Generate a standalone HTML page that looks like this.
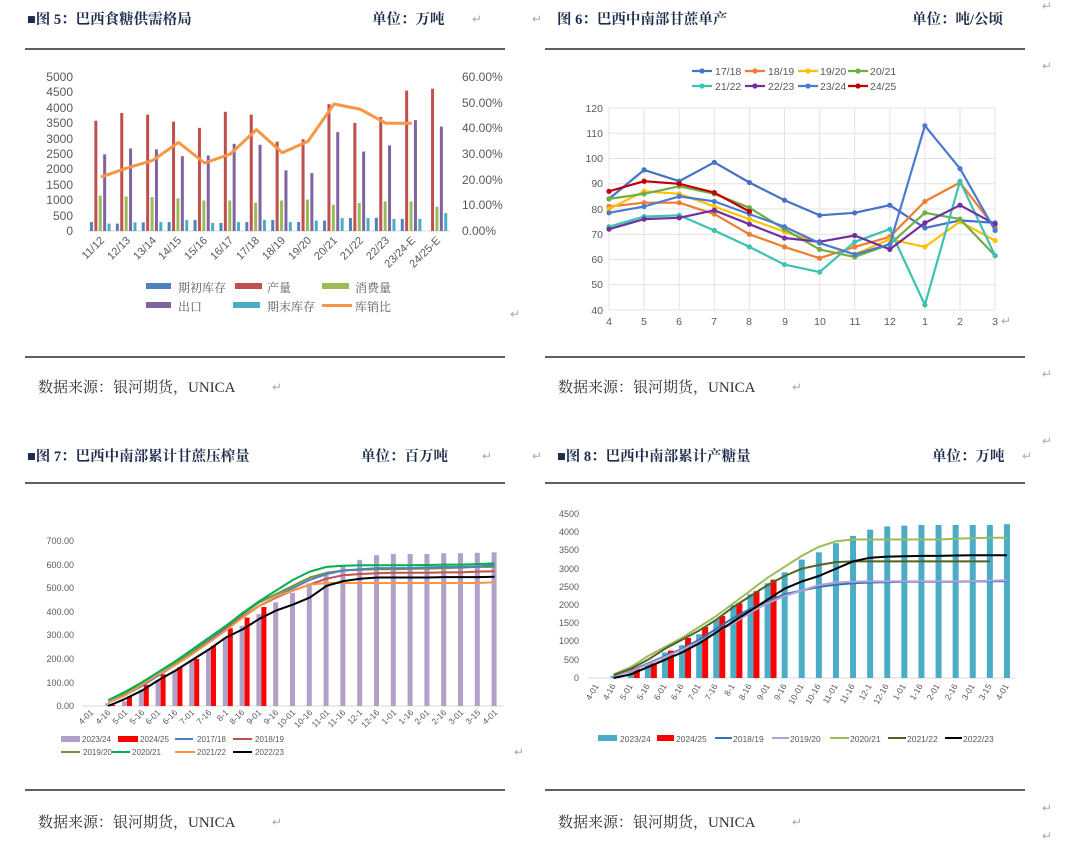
<!DOCTYPE html>
<html><head><meta charset="utf-8">
<style>
html,body{margin:0;padding:0;background:#fff;}
svg{display:block;font-family:"Liberation Serif","Noto Serif CJK SC",serif;}
.t{font-weight:bold;font-size:14.5px;fill:#1f2d4d;}
.s{font-size:15px;fill:#333;}
.ax{font-family:"Liberation Sans","Noto Sans CJK SC",sans-serif;fill:#595959;}
.rm{fill:#aaa;font-size:12px;font-family:"Liberation Sans",sans-serif;}
</style></head><body>
<svg id="c" width="1090" height="859" viewBox="0 0 1090 859" xmlns="http://www.w3.org/2000/svg">
<text class="t" x="27" y="24">■图 5：巴西食糖供需格局</text>
<text class="t" x="372" y="24">单位：万吨</text><text class="rm" x="472" y="23">↵</text><text class="rm" x="532" y="23">↵</text>
<text class="t" x="557" y="24">图 6：巴西中南部甘蔗单产</text>
<text class="t" x="912" y="24">单位：吨/公顷</text><text class="rm" x="1042" y="10">↵</text>
<line x1="25" y1="49" x2="505" y2="49" stroke="#000" stroke-width="1.2"/>
<line x1="545" y1="49" x2="1025" y2="49" stroke="#000" stroke-width="1.2"/>
<line x1="25" y1="357" x2="505" y2="357" stroke="#000" stroke-width="1.2"/>
<line x1="545" y1="357" x2="1025" y2="357" stroke="#000" stroke-width="1.2"/>
<text class="s" x="38" y="392">数据来源：银河期货，UNICA</text><text class="rm" x="272" y="391">↵</text>
<text class="s" x="558" y="392">数据来源：银河期货，UNICA</text><text class="rm" x="792" y="391">↵</text>
<text class="rm" x="1042" y="70">↵</text><text class="rm" x="1042" y="378">↵</text><text class="rm" x="1042" y="445">↵</text><text class="rm" x="510" y="318">↵</text>
<text class="t" x="27" y="461">■图 7：巴西中南部累计甘蔗压榨量</text>
<text class="t" x="361" y="461">单位：百万吨</text><text class="rm" x="482" y="460">↵</text><text class="rm" x="532" y="460">↵</text>
<text class="t" x="557" y="461">■图 8：巴西中南部累计产糖量</text>
<text class="t" x="932" y="461">单位：万吨</text><text class="rm" x="1022" y="460">↵</text>
<line x1="25" y1="483" x2="505" y2="483" stroke="#000" stroke-width="1.2"/>
<line x1="545" y1="483" x2="1025" y2="483" stroke="#000" stroke-width="1.2"/>
<line x1="25" y1="790" x2="505" y2="790" stroke="#000" stroke-width="1.2"/>
<line x1="545" y1="790" x2="1025" y2="790" stroke="#000" stroke-width="1.2"/>
<text class="s" x="38" y="827">数据来源：银河期货，UNICA</text><text class="rm" x="272" y="826">↵</text>
<text class="s" x="558" y="827">数据来源：银河期货，UNICA</text><text class="rm" x="792" y="826">↵</text>
<text class="rm" x="1042" y="812">↵</text><text class="rm" x="1042" y="840">↵</text><text class="rm" x="514" y="756">↵</text>

<g class="ax" font-size="12" text-anchor="end">
<text x="73" y="81">5000</text><text x="73" y="96">4500</text><text x="73" y="112">4000</text><text x="73" y="127">3500</text><text x="73" y="143">3000</text><text x="73" y="158">2500</text><text x="73" y="173">2000</text><text x="73" y="189">1500</text><text x="73" y="204">1000</text><text x="73" y="220">500</text><text x="73" y="235">0</text>
</g>
<g class="ax" font-size="12">
<text x="462" y="81">60.00%</text><text x="462" y="107">50.00%</text><text x="462" y="132">40.00%</text><text x="462" y="158">30.00%</text><text x="462" y="184">20.00%</text><text x="462" y="209">10.00%</text><text x="462" y="235">0.00%</text>
</g>
<g class="ax" font-size="11" text-anchor="end">
<text x="105" y="241" transform="rotate(-45 105 241)">11/12</text>
<text x="131" y="241" transform="rotate(-45 131 241)">12/13</text>
<text x="157" y="241" transform="rotate(-45 157 241)">13/14</text>
<text x="182" y="241" transform="rotate(-45 182 241)">14/15</text>
<text x="208" y="241" transform="rotate(-45 208 241)">15/16</text>
<text x="234" y="241" transform="rotate(-45 234 241)">16/17</text>
<text x="260" y="241" transform="rotate(-45 260 241)">17/18</text>
<text x="286" y="241" transform="rotate(-45 286 241)">18/19</text>
<text x="312" y="241" transform="rotate(-45 312 241)">19/20</text>
<text x="338" y="241" transform="rotate(-45 338 241)">20/21</text>
<text x="364" y="241" transform="rotate(-45 364 241)">21/22</text>
<text x="390" y="241" transform="rotate(-45 390 241)">22/23</text>
<text x="416" y="241" transform="rotate(-45 416 241)">23/24-E</text>
<text x="441" y="241" transform="rotate(-45 441 241)">24/25-E</text>
</g>
<g font-size="12" fill="#595959">
<rect x="146" y="283" width="25" height="6" fill="#4f81bd"/><text x="178" y="292">期初库存</text>
<rect x="235" y="283" width="27" height="6" fill="#c0504d"/><text x="267" y="292">产量</text>
<rect x="322" y="283" width="27" height="6" fill="#9bbb59"/><text x="355" y="292">消费量</text>
<rect x="146" y="302" width="25" height="6" fill="#8064a2"/><text x="178" y="311">出口</text>
<rect x="233" y="302" width="27" height="6" fill="#4bacc6"/><text x="267" y="311">期末库存</text>
<rect x="322" y="304" width="30" height="3" fill="#f79646"/><text x="355" y="311">库销比</text>
</g>

<g class="ax" font-size="10.5" text-anchor="end">
<text x="603" y="112">120</text><text x="603" y="137">110</text><text x="603" y="162">100</text><text x="603" y="187">90</text><text x="603" y="213">80</text><text x="603" y="238">70</text><text x="603" y="263">60</text><text x="603" y="288">50</text><text x="603" y="314">40</text>
</g>
<g class="ax" font-size="10.5" text-anchor="middle">
<text x="609" y="325">4</text><text x="644" y="325">5</text><text x="679" y="325">6</text><text x="714" y="325">7</text><text x="749" y="325">8</text><text x="785" y="325">9</text><text x="820" y="325">10</text><text x="855" y="325">11</text><text x="890" y="325">12</text><text x="925" y="325">1</text><text x="960" y="325">2</text><text x="995" y="325">3</text>
</g>
<text class="rm" x="1001" y="325" font-size="14">↵</text>
<g class="ax" font-size="10.5">
<text x="715" y="75">17/18</text><text x="768" y="75">18/19</text><text x="820" y="75">19/20</text><text x="870" y="75">20/21</text>
<text x="715" y="90">21/22</text><text x="768" y="90">22/23</text><text x="820" y="90">23/24</text><text x="870" y="90">24/25</text>
</g>

<g class="ax" font-size="9" text-anchor="end">
<text x="74" y="544">700.00</text><text x="74" y="568">600.00</text><text x="74" y="591">500.00</text><text x="74" y="615">400.00</text><text x="74" y="638">300.00</text><text x="74" y="662">200.00</text><text x="74" y="686">100.00</text><text x="74" y="709">0.00</text>
</g>
<g class="ax" font-size="8.5" text-anchor="end">
<text x="94" y="713" transform="rotate(-45 94 713)">4-01</text><text x="111" y="713" transform="rotate(-45 111 713)">4-16</text><text x="128" y="713" transform="rotate(-45 128 713)">5-01</text><text x="145" y="713" transform="rotate(-45 145 713)">5-16</text><text x="161" y="713" transform="rotate(-45 161 713)">6-01</text><text x="178" y="713" transform="rotate(-45 178 713)">6-16</text><text x="195" y="713" transform="rotate(-45 195 713)">7-01</text><text x="212" y="713" transform="rotate(-45 212 713)">7-16</text><text x="229" y="713" transform="rotate(-45 229 713)">8-1</text><text x="245" y="713" transform="rotate(-45 245 713)">8-16</text><text x="262" y="713" transform="rotate(-45 262 713)">9-01</text><text x="279" y="713" transform="rotate(-45 279 713)">9-16</text><text x="296" y="713" transform="rotate(-45 296 713)">10-01</text><text x="313" y="713" transform="rotate(-45 313 713)">10-16</text><text x="330" y="713" transform="rotate(-45 330 713)">11-01</text><text x="346" y="713" transform="rotate(-45 346 713)">11-16</text><text x="363" y="713" transform="rotate(-45 363 713)">12-1</text><text x="380" y="713" transform="rotate(-45 380 713)">12-16</text><text x="397" y="713" transform="rotate(-45 397 713)">1-01</text><text x="414" y="713" transform="rotate(-45 414 713)">1-16</text><text x="430" y="713" transform="rotate(-45 430 713)">2-01</text><text x="447" y="713" transform="rotate(-45 447 713)">2-16</text><text x="464" y="713" transform="rotate(-45 464 713)">3-01</text><text x="481" y="713" transform="rotate(-45 481 713)">3-15</text><text x="498" y="713" transform="rotate(-45 498 713)">4-01</text>
</g>
<g class="ax" font-size="8">
<rect x="61" y="736" width="19" height="6" fill="#b1a0c7"/><text x="82" y="742">2023/24</text>
<rect x="118" y="736" width="20" height="6" fill="#ff0000"/><text x="140" y="742">2024/25</text>
<rect x="175" y="738" width="18" height="2" fill="#4f81bd"/><text x="197" y="742">2017/18</text>
<rect x="233" y="738" width="19" height="2" fill="#c0504d"/><text x="255" y="742">2018/19</text>
<rect x="61" y="751" width="19" height="2" fill="#77933c"/><text x="83" y="755">2019/20</text>
<rect x="112" y="751" width="18" height="2" fill="#00b050"/><text x="132" y="755">2020/21</text>
<rect x="175" y="751" width="20" height="2" fill="#f79646"/><text x="197" y="755">2021/22</text>
<rect x="233" y="751" width="19" height="2" fill="#000"/><text x="255" y="755">2022/23</text>
</g>

<g class="ax" font-size="9" text-anchor="end">
<text x="579" y="517">4500</text><text x="579" y="535">4000</text><text x="579" y="553">3500</text><text x="579" y="572">3000</text><text x="579" y="590">2500</text><text x="579" y="608">2000</text><text x="579" y="626">1500</text><text x="579" y="644">1000</text><text x="579" y="663">500</text><text x="579" y="681">0</text>
</g>
<g class="ax" font-size="8.5" text-anchor="end">
<text x="599" y="686" transform="rotate(-60 599 686)">4-01</text><text x="616" y="686" transform="rotate(-60 616 686)">4-16</text><text x="633" y="686" transform="rotate(-60 633 686)">5-01</text><text x="650" y="686" transform="rotate(-60 650 686)">5-16</text><text x="667" y="686" transform="rotate(-60 667 686)">6-01</text><text x="684" y="686" transform="rotate(-60 684 686)">6-16</text><text x="701" y="686" transform="rotate(-60 701 686)">7-01</text><text x="718" y="686" transform="rotate(-60 718 686)">7-16</text><text x="735" y="686" transform="rotate(-60 735 686)">8-1</text><text x="752" y="686" transform="rotate(-60 752 686)">8-16</text><text x="770" y="686" transform="rotate(-60 770 686)">9-01</text><text x="787" y="686" transform="rotate(-60 787 686)">9-16</text><text x="804" y="686" transform="rotate(-60 804 686)">10-01</text><text x="821" y="686" transform="rotate(-60 821 686)">10-16</text><text x="838" y="686" transform="rotate(-60 838 686)">11-01</text><text x="855" y="686" transform="rotate(-60 855 686)">11-16</text><text x="872" y="686" transform="rotate(-60 872 686)">12-1</text><text x="889" y="686" transform="rotate(-60 889 686)">12-16</text><text x="906" y="686" transform="rotate(-60 906 686)">1-01</text><text x="923" y="686" transform="rotate(-60 923 686)">1-16</text><text x="940" y="686" transform="rotate(-60 940 686)">2-01</text><text x="958" y="686" transform="rotate(-60 958 686)">2-16</text><text x="975" y="686" transform="rotate(-60 975 686)">3-01</text><text x="992" y="686" transform="rotate(-60 992 686)">3-15</text><text x="1009" y="686" transform="rotate(-60 1009 686)">4-01</text>
</g>
<g class="ax" font-size="8.5">
<rect x="598" y="735" width="19" height="6" fill="#4bacc6"/><text x="620" y="742">2023/24</text>
<rect x="657" y="735" width="17" height="6" fill="#ff0000"/><text x="676" y="742">2024/25</text>
<rect x="715" y="737" width="17" height="2" fill="#2e75b6"/><text x="733" y="742">2018/19</text>
<rect x="772" y="737" width="17" height="2" fill="#b4a0d8"/><text x="790" y="742">2019/20</text>
<rect x="830" y="737" width="19" height="2" fill="#9bbb59"/><text x="850" y="742">2020/21</text>
<rect x="888" y="737" width="18" height="2" fill="#4f6228"/><text x="907" y="742">2021/22</text>
<rect x="945" y="737" width="17" height="2" fill="#000"/><text x="963" y="742">2022/23</text>
</g>
<g id="g"></g>
</svg>
<script>
var NS="http://www.w3.org/2000/svg",G=document.getElementById('g');
function el(n,a){var e=document.createElementNS(NS,n);for(var k in a)e.setAttribute(k,a[k]);G.appendChild(e);return e;}
function pl(pts,c,w){el('polyline',{points:pts.map(function(p){return p[0].toFixed(1)+','+p[1].toFixed(1)}).join(' '),fill:'none',stroke:c,'stroke-width':w,'stroke-linejoin':'round'});}
(function(){
var d=[[290,3580,1150,2490,240,21],[240,3830,1120,2680,280,24.5],[280,3780,1100,2650,290,27.5],[290,3550,1060,2430,360,34.5],[360,3350,990,2450,260,26.5],[260,3870,990,2830,290,30],[290,3780,920,2800,360,39.5],[360,2900,990,1970,290,30.5],[290,2980,1020,1880,340,35],[340,4120,850,3210,420,49.5],[420,3510,910,2580,420,47.5],[430,3700,960,2780,390,42],[390,4560,960,3600,390,42],[0,4620,790,3390,580,null]];
var col=['#4f81bd','#c0504d','#9bbb59','#8064a2','#4bacc6'];
el('line',{x1:88,y1:231,x2:450,y2:231,stroke:'#d9d9d9'});
var pts=[];
d.forEach(function(r,i){var cx=88+25.9*(i+0.5);
for(var j=0;j<5;j++){var h=r[j]*154/5000;if(h>0)el('rect',{x:cx-11+j*4.4,y:231-h,width:3,height:h,fill:col[j]});}
if(r[5]!=null)pts.push([cx,231-r[5]*154/60]);});
pl(pts,'#f79646',3);
})();
(function(){
for(var v=40;v<=120;v+=10){var y=310-(v-40)*202/80;el('line',{x1:609,y1:y,x2:995,y2:y,stroke:'#e3e3e3'});}
for(var i=0;i<12;i++){var x=609+35.1*i;el('line',{x1:x,y1:108,x2:x,y2:310,stroke:'#e3e3e3'});}
var S=[['#4472c4',[84,95.5,91,98.5,90.5,83.5,77.5,78.5,81.5,72.5,75.5,74.5]],
['#ed7d31',[81,82.5,82.5,78,70,65,60.5,65,69,83,90.5,72.5]],
['#ffc000',[80,87,86,81,76,71,66.5,62,68,65,75,67.5]],
['#70ad47',[84,86,89,86,80.5,72,64,61,66,78.5,76,61.5]],
['#3cc2b0',[73,77,77.5,71.5,65,58,55,67,72,42,91,61.5]],
['#7030a0',[72,76,76.5,79.5,74,68.5,67,69.5,64,74.5,81.5,74]],
['#4a7bd0',[78.5,81,85,83,78,73,66.5,62,66,113,96,71.5]],
['#c00000',[87,91,90,86.5,79]]];
S.forEach(function(s){var p=s[1].map(function(v,i){return [609+35.1*i,310-(v-40)*202/80];});pl(p,s[0],2.2);p.forEach(function(q){el('circle',{cx:q[0],cy:q[1],r:2.6,fill:s[0]});});});
var L=[[692,71],[745,71],[798,71],[848,71],[692,86],[745,86],[798,86],[848,86]];
L.forEach(function(q,i){el('line',{x1:q[0],y1:q[1],x2:q[0]+20,y2:q[1],stroke:S[i][0],'stroke-width':2.2});el('circle',{cx:q[0]+10,cy:q[1],r:2.6,fill:S[i][0]});});
})();
(function(){
var x0=83,st=16.8,yb=706,k=165/700;
el('line',{x1:83,y1:706,x2:503,y2:706,stroke:'#d9d9d9'});
var P=[0,12,20,70,110,150,195,240,290,340,390,440,480,520,560,595,620,640,645,645,645,648,648,650,652];
var R=[0,5,40,90,135,165,200,255,330,375,420];
P.forEach(function(v,i){var cx=x0+st*(i+0.5);if(v>0)el('rect',{x:cx-3,y:yb-v*k,width:5,height:v*k,fill:'#b1a0c7'});});
R.forEach(function(v,i){var cx=x0+st*(i+0.5);if(v>0)el('rect',{x:cx+2,y:yb-v*k,width:5,height:v*k,fill:'#ff0000'});});
var S=[['#c0504d',[15,50,90,135,180,225,280,330,380,425,460,490,515,540,555,560,563,565,565,565,567,567,570,572]],
['#77933c',[15,50,95,140,185,230,285,340,390,440,475,510,545,565,575,578,580,580,582,583,585,587,590,590]],
['#4f81bd',[15,45,85,130,175,220,275,325,375,425,465,500,535,560,575,580,585,585,585,588,590,590,592,598]],
['#f79646',[15,45,90,135,175,220,270,320,375,425,465,490,515,522,522,522,522,522,522,522,522,522,522,525]],
['#00b050',[25,60,100,145,190,240,290,340,395,445,490,535,570,590,595,597,597,597,597,598,600,600,602,605]],
['#000',[0,30,65,110,150,195,240,290,325,370,405,430,460,510,530,540,545,545,545,545,547,547,547,548]]];
S.forEach(function(s){pl(s[1].map(function(v,i){return [x0+st*(i+1.5),yb-v*k];}),s[0],2);});
})();
(function(){
var x0=588,st=17.1,yb=678,k=164/4500;
el('line',{x1:588,y1:678,x2:1015,y2:678,stroke:'#d9d9d9'});
var T=[0,60,200,400,700,900,1200,1600,2000,2300,2600,2900,3250,3450,3700,3900,4070,4160,4180,4200,4200,4200,4200,4200,4220];
var R=[0,0,250,400,750,1100,1400,1700,2050,2380,2700];
T.forEach(function(v,i){var cx=x0+st*(i+0.5);if(v>0)el('rect',{x:cx-3,y:yb-v*k,width:6,height:v*k,fill:'#4bacc6'});});
R.forEach(function(v,i){var cx=x0+st*(i+0.5);if(v>0)el('rect',{x:cx+3,y:yb-v*k,width:6,height:v*k,fill:'#ff0000'});});
var S=[['#2e75b6',[50,200,400,600,800,1050,1350,1650,1900,2100,2300,2400,2500,2560,2600,2620,2630,2640,2640,2640,2640,2650,2650,2660]],
['#b4a0d8',[50,180,380,580,780,1000,1250,1500,1800,2050,2250,2400,2550,2620,2640,2650,2650,2650,2650,2650,2650,2660,2670,2680]],
['#9bbb59',[100,300,600,850,1100,1400,1700,2050,2400,2750,3050,3350,3600,3750,3800,3800,3800,3800,3800,3800,3820,3840,3850,3850]],
['#4f6228',[80,250,500,800,1050,1300,1600,1950,2250,2550,2800,3000,3100,3180,3200,3200,3200,3200,3200,3200,3200,3200,3200]],
['#000',[0,100,300,500,700,950,1250,1550,1850,2150,2450,2650,2800,3000,3200,3300,3330,3340,3350,3350,3360,3370,3370,3370]]];
S.forEach(function(s){pl(s[1].map(function(v,i){return [x0+st*(i+1.5),yb-v*k];}),s[0],2);});
})();
</script>
</body></html>
